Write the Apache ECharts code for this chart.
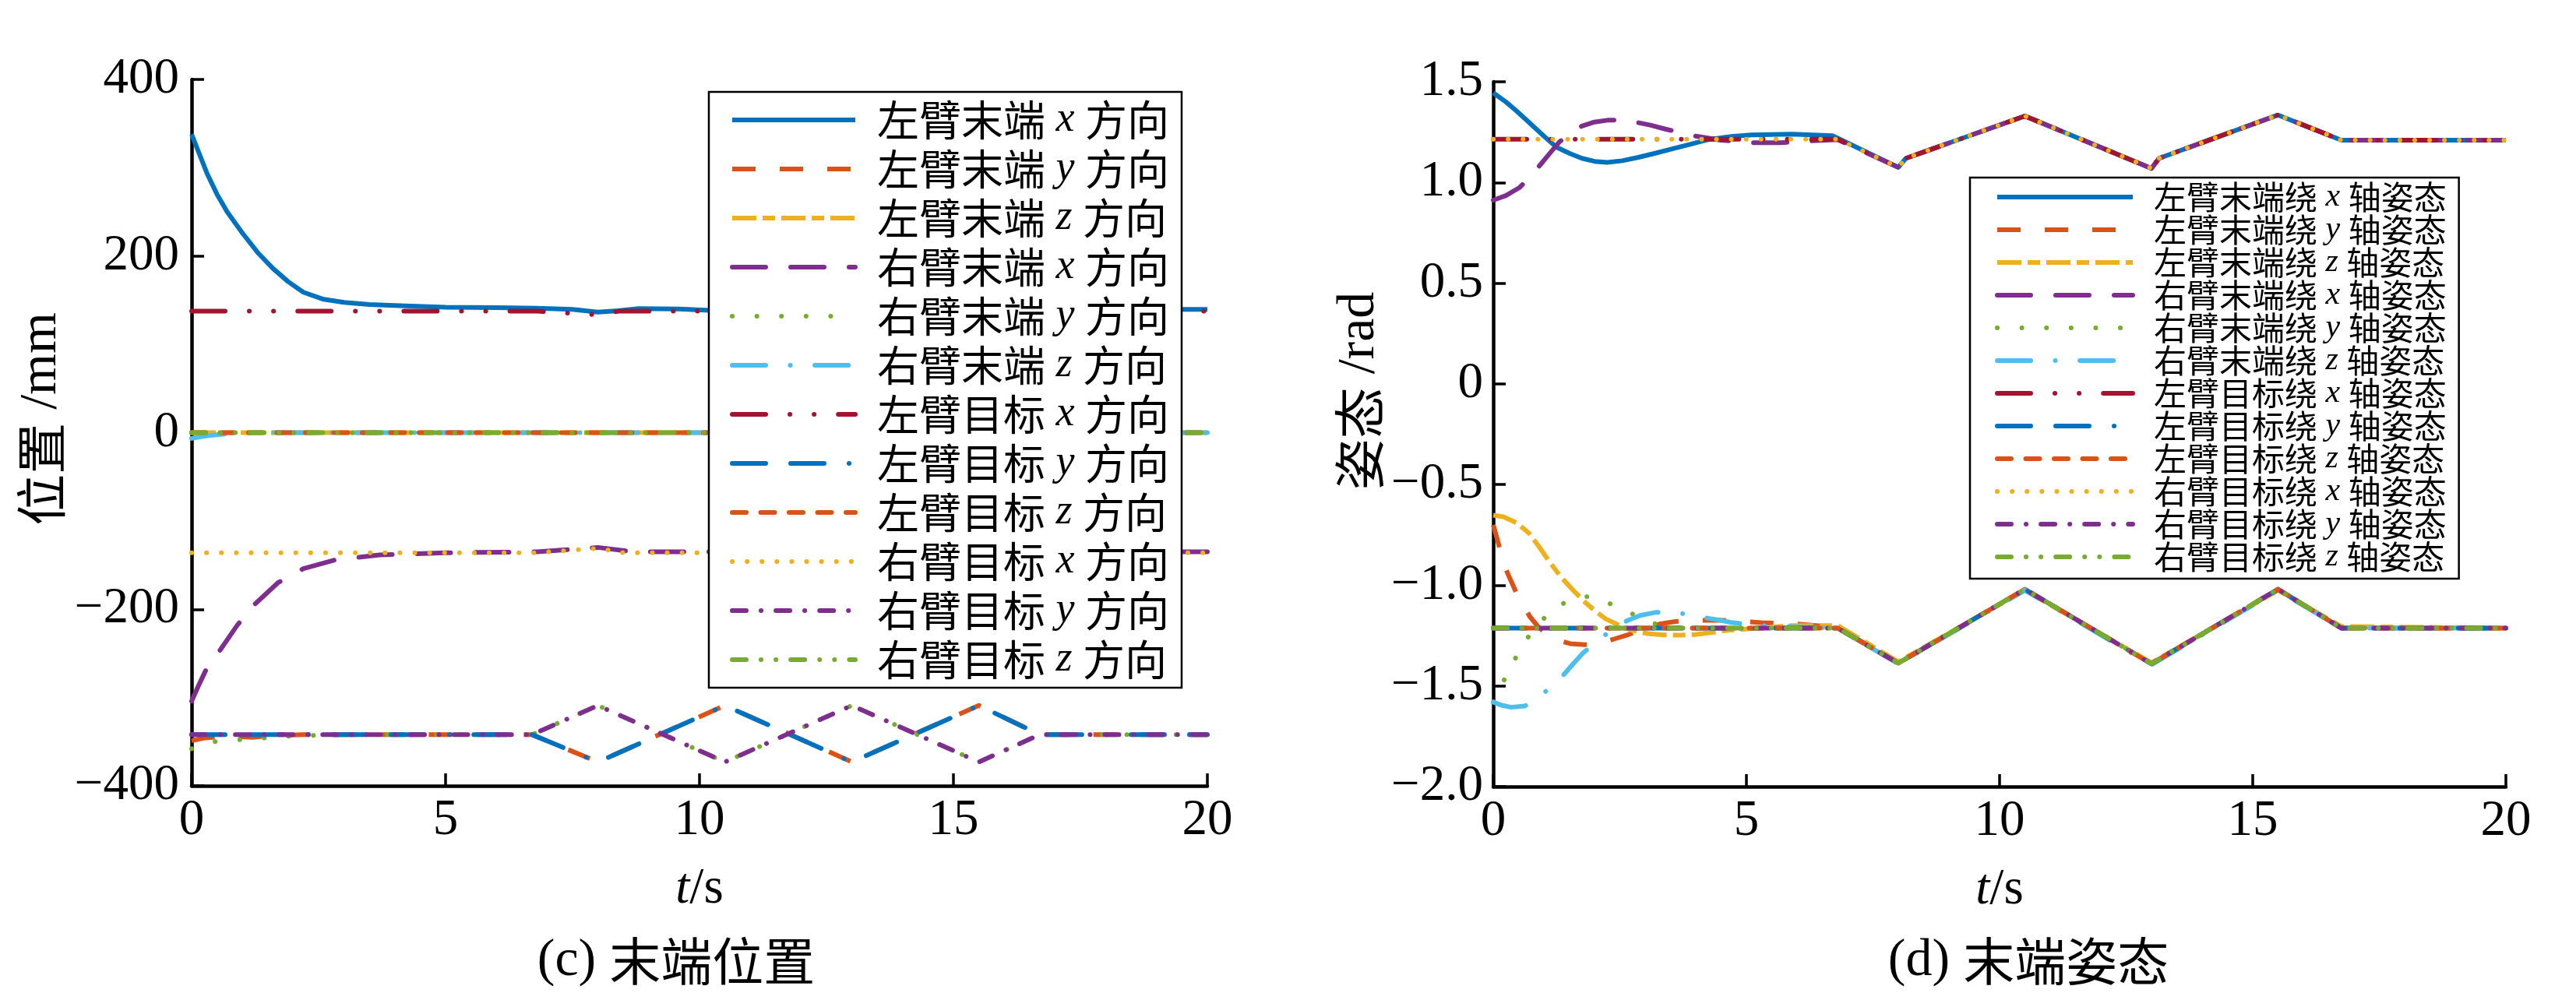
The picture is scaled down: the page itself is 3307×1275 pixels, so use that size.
<!DOCTYPE html>
<html><head><meta charset="utf-8">
<script src="https://cdn.jsdelivr.net/npm/echarts@6/dist/echarts.min.js"></script>
<style>html,body{margin:0;padding:0;background:#fff}#c{width:3307px;height:1275px}</style>
</head><body><div id="c"></div>
<script>
// ---------------- data ----------------
const xTicks = [0, 5, 10, 15, 20];
const posTicks = [-400, -200, 0, 200, 400];
const attTicks = [-2.0, -1.5, -1.0, -0.5, 0, 0.5, 1.0, 1.5];

const posNames = ['左臂末端 x 方向','左臂末端 y 方向','左臂末端 z 方向','右臂末端 x 方向','右臂末端 y 方向','右臂末端 z 方向',
                  '左臂目标 x 方向','左臂目标 y 方向','左臂目标 z 方向','右臂目标 x 方向','右臂目标 y 方向','右臂目标 z 方向'];
const attNames = ['左臂末端绕 x 轴姿态','左臂末端绕 y 轴姿态','左臂末端绕 z 轴姿态','右臂末端绕 x 轴姿态','右臂末端绕 y 轴姿态','右臂末端绕 z 轴姿态',
                  '左臂目标绕 x 轴姿态','左臂目标绕 y 轴姿态','左臂目标绕 z 轴姿态','右臂目标绕 x 轴姿态','右臂目标绕 y 轴姿态','右臂目标绕 z 轴姿态'];

// (c) position, mm  [t, value]
const posLeftEndX = [[0,338],[0.15,316],[0.3,294],[0.5,270],[0.7,250],[1.0,226],[1.3,204],[1.6,186],[1.9,171],[2.2,159],[2.6,151],[3.0,147.5],[3.5,145],[4.2,143.5],[5,142],[6,141.5],[6.8,141],[7.5,139.5],[8.0,136.5],[8.4,138],[8.8,140.5],[9.6,140],[10.2,138.5],[11,139],[12.5,140],[14,139.5],[16,140],[18,139.5],[20,139.5]];
const posLeftEndY = [[0,-349],[0.23,-346],[0.66,-344],[1.2,-345],[1.6,-343],[2.2,-342],[6.7,-342],[8,-373],[10.5,-309],[13,-373],[15.5,-309],[16.7,-342],[20,-342]];
const posLeftEndZ = [[0,0],[20,0]];
const posRightEndX = [[0,-304],[0.14,-286],[0.28,-269],[0.54,-248],[0.9,-218],[1.25,-194],[1.7,-170],[2.2,-154],[2.8,-144.5],[3.7,-138.5],[5,-136],[6.8,-135],[8.0,-130],[8.7,-135],[20,-135]];
const posRightEndY = [[0,-358],[0.43,-350],[0.9,-348],[1.4,-346],[1.85,-344],[2.3,-343],[3.0,-342],[6.7,-342],[8,-309],[10.5,-373],[13,-309],[15.5,-373],[16.7,-342],[20,-342]];
const posRightEndZ = [[0,-6.5],[0.3,-3.5],[0.65,-1.6],[1.0,-0.5],[1.5,0],[20,0]];
const posLeftTgtX = [[0,137.5],[6.8,137.5],[8.0,133.5],[8.4,137.5],[20,137.5]];
const posLeftTgtY = [[0,-342],[6.7,-342],[8,-373],[10.5,-309],[13,-373],[15.5,-309],[16.7,-342],[20,-342]];
const posLeftTgtZ = [[0,0],[20,0]];
const posRightTgtX = [[0,-136],[6.8,-136],[8.0,-131],[8.5,-136],[20,-136]];
const posRightTgtY = [[0,-342],[6.7,-342],[8,-309],[10.5,-373],[13,-309],[15.5,-373],[16.7,-342],[20,-342]];
const posRightTgtZ = [[0,0],[20,0]];

// (d) attitude, rad  [t, value]
const attLeftEndX = [[0,1.445],[0.25,1.40],[0.46,1.355],[0.7,1.30],[1.0,1.23],[1.25,1.175],[1.5,1.145],[1.75,1.12],[2.0,1.105],[2.25,1.10],[2.55,1.108],[2.85,1.124],[3.2,1.145],[3.55,1.168],[3.9,1.19],[4.25,1.213],[4.7,1.228],[5.1,1.236],[5.9,1.24],[6.7,1.232],[8.0,1.075],[8.15,1.12],[10.5,1.33],[13.0,1.07],[13.15,1.12],[15.5,1.335],[16.75,1.21],[20,1.21]];
const attLeftEndY = [[0,-0.70],[0.1,-0.79],[0.19,-0.884],[0.3,-0.95],[0.46,-1.04],[0.6,-1.1],[0.72,-1.155],[0.9,-1.21],[1.08,-1.245],[1.3,-1.275],[1.52,-1.29],[1.8,-1.295],[2.05,-1.29],[2.35,-1.27],[2.67,-1.245],[3.0,-1.215],[3.28,-1.193],[3.6,-1.18],[3.9,-1.174],[4.6,-1.174],[5.3,-1.186],[5.9,-1.19],[6.8,-1.21],[8.0,-1.387],[10.5,-1.02],[13.0,-1.39],[15.5,-1.02],[16.75,-1.213],[20,-1.213]];
const attLeftEndZ = [[0,-0.652],[0.2,-0.66],[0.46,-0.69],[0.7,-0.74],[0.9,-0.807],[1.1,-0.88],[1.34,-0.96],[1.56,-1.02],[1.78,-1.077],[2.0,-1.125],[2.22,-1.167],[2.5,-1.2],[2.75,-1.225],[3.05,-1.24],[3.37,-1.247],[3.7,-1.248],[3.99,-1.245],[4.3,-1.235],[4.6,-1.225],[5.2,-1.213],[5.9,-1.2],[6.8,-1.2],[8.0,-1.38],[10.5,-1.025],[13.0,-1.385],[15.5,-1.025],[16.75,-1.205],[20,-1.213]];
const attRightEndX = [[0,0.912],[0.25,0.935],[0.52,0.975],[0.7,1.02],[0.87,1.07],[1.1,1.14],[1.3,1.2],[1.55,1.25],[1.75,1.28],[2.0,1.30],[2.28,1.31],[2.55,1.31],[2.8,1.30],[3.1,1.285],[3.4,1.265],[3.7,1.248],[3.96,1.232],[4.5,1.21],[5.1,1.197],[5.67,1.197],[6.3,1.207],[6.8,1.213],[8.0,1.075],[8.15,1.12],[10.5,1.33],[13.0,1.07],[13.15,1.12],[15.5,1.335],[16.75,1.21],[20,1.21]];
const attRightEndY = [[0,-1.58],[0.19,-1.483],[0.41,-1.375],[0.63,-1.277],[0.94,-1.178],[1.3,-1.1],[1.6,-1.066],[1.9,-1.055],[2.2,-1.08],[2.65,-1.13],[3.1,-1.186],[3.6,-1.21],[4.5,-1.215],[6.8,-1.213],[8.0,-1.387],[10.5,-1.02],[13.0,-1.39],[15.5,-1.02],[16.75,-1.213],[20,-1.213]];
const attRightEndZ = [[0,-1.58],[0.15,-1.595],[0.35,-1.606],[0.62,-1.60],[0.8,-1.575],[1.0,-1.535],[1.2,-1.49],[1.37,-1.45],[1.58,-1.39],[1.78,-1.335],[2.0,-1.29],[2.22,-1.245],[2.44,-1.205],[2.66,-1.174],[2.9,-1.15],[3.2,-1.135],[3.5,-1.135],[3.72,-1.14],[4.0,-1.155],[4.4,-1.17],[4.7,-1.185],[5.2,-1.2],[6.8,-1.213],[8.0,-1.39],[10.5,-1.025],[13.0,-1.395],[15.5,-1.025],[16.75,-1.213],[20,-1.213]];
const attLeftTgtX = [[0,1.215],[6.8,1.215],[8.0,1.075],[8.15,1.12],[10.5,1.33],[13.0,1.07],[13.15,1.12],[15.5,1.335],[16.75,1.21],[20,1.21]];
const attLeftTgtY = [[0,-1.213],[6.8,-1.213],[8.0,-1.387],[10.5,-1.02],[13.0,-1.39],[15.5,-1.02],[16.75,-1.213],[20,-1.213]];
const attLeftTgtZ = [[0,-1.213],[6.8,-1.213],[8.0,-1.387],[10.5,-1.02],[13.0,-1.39],[15.5,-1.02],[16.75,-1.213],[20,-1.213]];
const attRightTgtX = [[0,1.215],[6.8,1.215],[8.0,1.075],[8.15,1.12],[10.5,1.33],[13.0,1.07],[13.15,1.12],[15.5,1.335],[16.75,1.21],[20,1.21]];
const attRightTgtY = [[0,-1.213],[6.8,-1.213],[8.0,-1.387],[10.5,-1.02],[13.0,-1.39],[15.5,-1.02],[16.75,-1.213],[20,-1.213]];
const attRightTgtZ = [[0,-1.213],[6.8,-1.213],[8.0,-1.387],[10.5,-1.02],[13.0,-1.39],[15.5,-1.02],[16.75,-1.213],[20,-1.213]];

const posSeriesData = [posLeftEndX,posLeftEndY,posLeftEndZ,posRightEndX,posRightEndY,posRightEndZ,posLeftTgtX,posLeftTgtY,posLeftTgtZ,posRightTgtX,posRightTgtY,posRightTgtZ];
const attSeriesData = [attLeftEndX,attLeftEndY,attLeftEndZ,attRightEndX,attRightEndY,attRightEndZ,attLeftTgtX,attLeftTgtY,attLeftTgtZ,attRightTgtX,attRightTgtY,attRightTgtZ];

// ---------------- styles ----------------
const lineStyles = [
  {color:'#0072BD', type:'solid', cap:'butt'},
  {color:'#D95319', type:[30,31], cap:'butt'},
  {color:'#EDB120', type:[31,8,16,8], cap:'butt'},
  {color:'#7E2F8E', type:[43,32], cap:'round'},
  {color:'#77AC30', type:[0.1,31.5], cap:'round'},
  {color:'#4DBEEE', type:[43,31.5,0.1,31.5], cap:'round'},
  {color:'#A2142F', type:[43,31,0.1,31,0.1,31], cap:'round'},
  {color:'#0072BD', type:[43,32,43,32,0.1,31], cap:'round'},
  {color:'#D95319', type:[18,18.5], cap:'round'},
  {color:'#EDB120', type:[0.1,19], cap:'round'},
  {color:'#7E2F8E', type:[18,19,0.1,19], cap:'round'},
  {color:'#77AC30', type:[18,19,0.1,19,0.1,19], cap:'round'}
];
const SERIF = 'Liberation Serif';
const CJK = 'Noto Sans CJK SC';
const LW = 6;

function mkSeries(names, datas, idx) {
  return names.map((n, i) => ({
    name: n, type: 'line', xAxisIndex: idx, yAxisIndex: idx,
    data: datas[i], symbol: 'none', showSymbol: false, smooth: false,
    animation: false, z: 2 + i,
    lineStyle: {width: LW, color: lineStyles[i].color, type: lineStyles[i].type, cap: lineStyles[i].cap, join: 'round'},
    itemStyle: {color: lineStyles[i].color}
  }));
}

function legendFmt(name) {
  const p = name.split(' ');
  return '{s| }{a|' + p[0] + '}{i| ' + p[1] + ' }{a|' + p[2] + '}';
}

const minus = s => s.replace('-', '\u2212');
function axisCommon(extra) {
  return Object.assign({
    type: 'value',
    splitLine: {show: false},
    axisLine: {show: true, onZero: false, lineStyle: {color: '#000', width: 4.5}},
    axisTick: {show: true, inside: true, length: 16, lineStyle: {color: '#000', width: 3.5}},
  }, extra);
}
const tickLabel = {fontFamily: SERIF, fontSize: 65, color: '#000', showMinLabel: true, showMaxLabel: true};

const xName = {
  name: '{i|t}/s', nameLocation: 'middle', nameGap: 100,
  nameTextStyle: {color:'#000', fontFamily: SERIF, fontSize: 65, lineHeight: 66,
    rich: {i: {fontFamily: SERIF, fontStyle: 'italic', fontSize: 65, lineHeight: 66, color:'#000'}}}
};

const legendCommon = {
  orient: 'vertical', itemHeight: 2, borderColor: '#000', borderWidth: 2.5,
  backgroundColor: '#fff', selectedMode: false, lineStyle: {width: LW},
  itemStyle: {opacity: 0, borderWidth: 0}, formatter: legendFmt, z: 20
};

const option = {
  backgroundColor: '#fff',
  animation: false,
  grid: [
    {left: 246, top: 102, width: 1304, height: 907},
    {left: 1917, top: 105, width: 1300, height: 905}
  ],
  xAxis: [
    axisCommon(Object.assign({gridIndex: 0, min: xTicks[0], max: xTicks[xTicks.length-1], interval: xTicks[1]-xTicks[0],
      axisLabel: Object.assign({margin: 12}, tickLabel)}, xName)),
    axisCommon(Object.assign({gridIndex: 1, min: xTicks[0], max: xTicks[xTicks.length-1], interval: xTicks[1]-xTicks[0],
      axisLabel: Object.assign({margin: 12}, tickLabel)}, xName))
  ],
  yAxis: [
    axisCommon({gridIndex: 0, min: posTicks[0], max: posTicks[posTicks.length-1], interval: posTicks[1]-posTicks[0],
      axisLabel: Object.assign({margin: 16, formatter: v => minus(String(v))}, tickLabel)}),
    axisCommon({gridIndex: 1, min: attTicks[0], max: attTicks[attTicks.length-1], interval: attTicks[1]-attTicks[0],
      axisLabel: Object.assign({margin: 13, formatter: v => Math.abs(v) < 1e-9 ? '0' : minus(v.toFixed(1))}, tickLabel)})
  ],
  legend: [
    Object.assign({}, legendCommon, {
      data: posNames, left: 910, top: 118,
      padding: [9, 16, 9, 27], itemWidth: 158, itemGap: 9,
      textStyle: {color:'#000', rich: {
        s: {width: 23, fontSize: 54, lineHeight: 56},
        a: {fontFamily: CJK, fontSize: 54, lineHeight: 56, color:'#000'},
        i: {fontFamily: SERIF, fontStyle: 'italic', fontSize: 54, lineHeight: 56, color:'#000'}
      }}
    }),
    Object.assign({}, legendCommon, {
      data: attNames, left: 2529, top: 228,
      padding: [4, 16, 7, 32], itemWidth: 174, itemGap: 0,
      textStyle: {color:'#000', rich: {
        s: {width: 22, fontSize: 42, lineHeight: 42.7},
        a: {fontFamily: CJK, fontSize: 42, lineHeight: 42.7, color:'#000'},
        i: {fontFamily: SERIF, fontStyle: 'italic', fontSize: 42, lineHeight: 42.7, color:'#000'}
      }}
    })
  ],
  graphic: [
    {type: 'text', x: 53, y: 538, rotation: Math.PI / 2,
      style: {text: '{c|位置}{r| /mm}', align: 'center', verticalAlign: 'middle',
        rich: {c: {fontFamily: CJK, fontSize: 66, fill: '#000'}, r: {fontFamily: SERIF, fontSize: 68, fill: '#000'}}}},
    {type: 'text', x: 1745, y: 502, rotation: Math.PI / 2,
      style: {text: '{c|姿态}{r| /rad}', align: 'center', verticalAlign: 'middle',
        rich: {c: {fontFamily: CJK, fontSize: 66, fill: '#000'}, r: {fontFamily: SERIF, fontSize: 68, fill: '#000'}}}},
    {type: 'text', x: 868, y: 1234,
      style: {text: '{r|(c) }{c|末端位置}', align: 'center', verticalAlign: 'middle',
        rich: {c: {fontFamily: CJK, fontSize: 66, fill: '#000'}, r: {fontFamily: SERIF, fontSize: 68, fill: '#000'}}}},
    {type: 'text', x: 2604, y: 1234,
      style: {text: '{r|(d) }{c|末端姿态}', align: 'center', verticalAlign: 'middle',
        rich: {c: {fontFamily: CJK, fontSize: 66, fill: '#000'}, r: {fontFamily: SERIF, fontSize: 68, fill: '#000'}}}}
  ],
  series: mkSeries(posNames, posSeriesData, 0).concat(mkSeries(attNames, attSeriesData, 1))
};

const chart = echarts.init(document.getElementById('c'), null, {renderer: 'canvas'});
chart.setOption(option);
</script>
</body></html>
